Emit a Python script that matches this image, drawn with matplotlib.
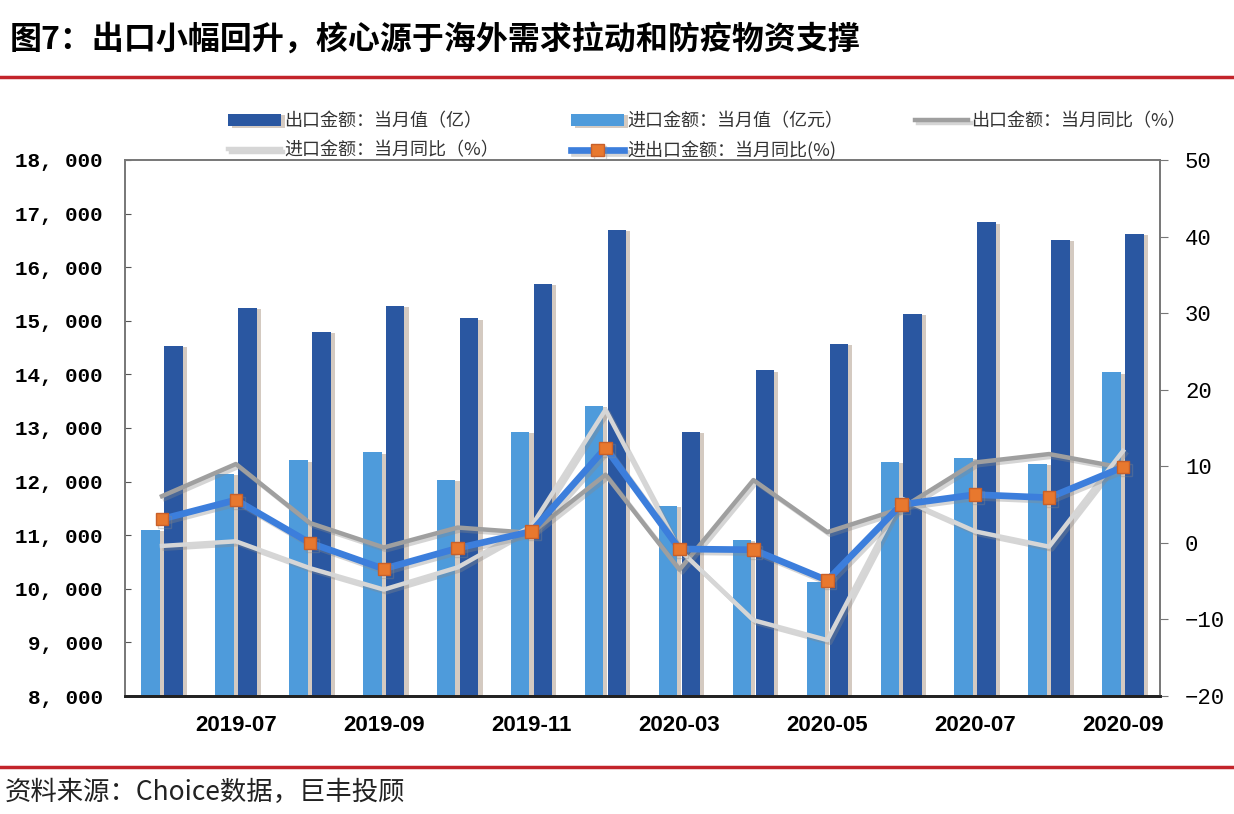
import matplotlib
matplotlib.use("Agg")
import matplotlib.pyplot as plt
import matplotlib.patheffects as pe
from matplotlib.lines import Line2D
import numpy as np

plt.rcParams['font.family'] = ['Noto Sans CJK SC', 'DejaVu Sans']

# data
months = ['2019-06', '2019-07', '2019-08', '2019-09', '2019-10', '2019-11', '2019-12',
          '2020-03', '2020-04', '2020-05', '2020-06', '2020-07', '2020-08', '2020-09']
export_value = [14530, 15240, 14790, 15280, 15050, 15690, 16700,
                12930, 14080, 14570, 15130, 16840, 16510, 16620]
import_value = [11100, 12140, 12400, 12550, 12030, 12930, 13410,
                11550, 10910, 10130, 12370, 12440, 12330, 14040]
export_yoy = [6.1, 10.3, 2.6, -0.6, 2.0, 1.3, 8.9, -3.5, 8.2, 1.4, 4.5, 10.5, 11.6, 9.8]
import_yoy = [-0.4, 0.2, -3.3, -6.1, -3.2, 2.2, 17.4, -0.9, -10.1, -12.7, 5.8, 1.5, -0.5, 12.0]
total_yoy = [3.1, 5.6, 0.0, -3.4, -0.7, 1.5, 12.4, -0.8, -0.9, -4.9, 5.0, 6.3, 5.9, 9.9]

c_dark = '#2A57A1'
c_light = '#4E9BDB'
c_gray = '#9F9F9F'
c_lgray = '#D6D6D6'
c_blue = '#3C7EDC'
c_orange = '#E8782E'
c_red = '#C3242B'

fig = plt.figure(figsize=(12.34, 8.14), dpi=100)
ax = fig.add_axes([125 / 1234, 1 - 696 / 814, 1035 / 1234, 536 / 814])
ax2 = ax.twinx()

x = np.arange(len(months))
w = 0.25
bar_shadow = [pe.SimplePatchShadow(offset=(3, -1), shadow_rgbFace='#b8a898', alpha=0.6), pe.Normal()]
b_imp = ax.bar(x - 0.155, np.array(import_value) - 8000, w, bottom=8000, color=c_light,
               path_effects=bar_shadow, label='进口金额：当月值（亿元）')
b_exp = ax.bar(x + 0.155, np.array(export_value) - 8000, w, bottom=8000, color=c_dark,
               path_effects=bar_shadow, label='出口金额：当月值（亿）')

line_shadow = [pe.SimpleLineShadow(offset=(2, -2), shadow_color='#888888', alpha=0.35), pe.Normal()]
l_exp, = ax2.plot(x, export_yoy, color=c_gray, lw=3.2, path_effects=line_shadow,
                  label='出口金额：当月同比（%）')
l_imp, = ax2.plot(x, import_yoy, color=c_lgray, lw=3.2, path_effects=line_shadow,
                  label='进口金额：当月同比（%）')
l_tot, = ax2.plot(x, total_yoy, color=c_blue, lw=4.8, marker='s', markersize=9,
                  markerfacecolor=c_orange, markeredgecolor='#C8602A', path_effects=line_shadow,
                  label='进出口金额：当月同比(%)')

ax.set_xlim(-0.5, 13.5)
ax.set_ylim(8000, 18000)
ax2.set_ylim(-20, 50)
ax.set_yticks(np.arange(8000, 18001, 1000))
ax.set_yticklabels([f'{v // 1000}, {v % 1000:03d}' for v in range(8000, 18001, 1000)],
                   family='Liberation Mono', fontweight='bold', fontsize=15)
ax2.set_yticks(np.arange(-20, 51, 10))
ax2.set_yticklabels([str(v).replace('-', '−') for v in range(-20, 51, 10)],
                    family='Liberation Mono', fontsize=16)

ax.set_xticks(x[1::2])
ax.set_xticklabels(months[1::2], family='Liberation Sans', fontweight='bold', fontsize=16)
ax.tick_params(axis='x', length=0, pad=14)
ax.tick_params(axis='y', direction='in', length=4, color='#555555', pad=16)
ax2.tick_params(axis='y', direction='out', length=6, color='#777777', pad=12)

for a in (ax, ax2):
    for s in a.spines.values():
        s.set_color('#777777')
        s.set_linewidth(1.2)
    a.spines['bottom'].set_color('#222222')
    a.spines['bottom'].set_linewidth(2)

handles = [b_exp, l_imp, b_imp, l_tot, l_exp]
fig.legend(handles=handles, labels=[h.get_label() for h in handles], ncol=3,
           loc='upper left', bbox_to_anchor=(212 / 1234, 1 - 96 / 814), frameon=False,
           fontsize=13, handlelength=2.9, handletextpad=0.2, columnspacing=4.0,
           labelspacing=0.6, labelcolor='#333333')

fig.text(10 / 1234, 1 - 40 / 814, '图7：出口小幅回升，核心源于海外需求拉动和防疫物资支撑',
         fontsize=23, fontweight='bold', va='center', ha='left')
fig.text(5 / 1234, 1 - 792 / 814, '资料来源：Choice数据，巨丰投顾',
         fontsize=19, va='center', ha='left', color='#222222')

fig.add_artist(Line2D([0, 1], [1 - 77 / 814] * 2, color=c_red, lw=2.5, transform=fig.transFigure))
fig.add_artist(Line2D([0, 1], [1 - 767 / 814] * 2, color=c_red, lw=2.5, transform=fig.transFigure))

fig.savefig('out.png', dpi=100)
